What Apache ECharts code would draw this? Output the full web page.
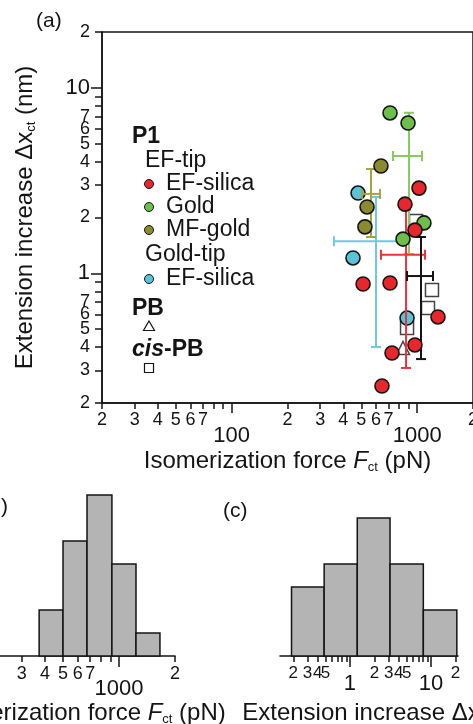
<!DOCTYPE html>
<html>
<head>
<meta charset="utf-8">
<script src="https://cdn.jsdelivr.net/npm/echarts@6.0.0/dist/echarts.min.js"></script>
<style>
html, body { margin: 0; padding: 0; background: #fff; }
#chart { width: 473px; height: 724px; }
</style>
</head>
<body>
<div id="chart"></div>
<script>
// (a) isomerization force F_ct (pN) vs extension increase dx_ct (nm)
const efSilicaForce = [1023, 860, 973, 511, 714, 1295, 732, 973, 646];
const efSilicaExt = [2.88, 2.36, 1.71, 0.876, 0.887, 0.582, 0.372, 0.411, 0.247];
const goldForce = [714, 893, 1088, 839];
const goldExt = [7.32, 6.46, 1.87, 1.53];
const mfGoldForce = [638, 537, 523];
const mfGoldExt = [3.79, 2.28, 1.78];
const goldTipForce = [480, 451, 882];
const goldTipExt = [2.71, 1.21, 0.574];
const pbForce = [839];
const pbExt = [0.396];
const cisPbForce = [986, 1202, 1144, 882];
const cisPbExt = [1.915, 0.813, 0.650, 0.507];

// mean and spread: [F, F low, F high, dx, dx low, dx high]
const efSilicaErr = [871, 638, 1102, 1.26, 0.309, 2.21];
const goldErr = [904, 741, 1062, 4.29, 1.27, 7.34];
const mfGoldErr = [564, 504, 630, 2.68, 1.57, 3.65];
const goldTipErr = [600, 356, 839, 1.49, 0.401, 2.58];
const pbErr = [1049, 882, 1217, 0.967, 0.345, 1.57];

// (b) and (c) histograms
const forceBinEdges = [372, 500, 673, 916, 1234, 1660];
const forceCounts = [2, 5, 7, 4, 1];
const extBinEdges = [0.19, 0.48, 1.23, 3.12, 8.03, 20.8];
const extCounts = [3, 4, 6, 4, 2];

// ticks and tick labels
const forceTicks = [20, 30, 40, 50, 60, 70, 80, 90, 100, 200, 300, 400, 500, 600, 700, 800, 900, 1000, 2000];
const forceMinorLabels = [20, 30, 40, 50, 60, 70, 200, 300, 400, 500, 600, 700, 2000];
const forceMajorLabels = [100, 1000];
const extTicks = [0.2, 0.3, 0.4, 0.5, 0.6, 0.7, 0.8, 0.9, 1, 2, 3, 4, 5, 6, 7, 8, 9, 10, 20];
const extMinorLabels = [0.2, 0.3, 0.4, 0.5, 0.6, 0.7, 2, 3, 4, 5, 6, 7, 20];
const extMajorLabels = [1, 10];
const histForceMinorLabels = [300, 400, 500, 600, 700, 2000];
const histExtMinorLabels = [0.2, 0.3, 0.4, 0.5, 2, 3, 4, 5, 20];

const FONT = 'Liberation Sans, Arial, sans-serif';
const INK = '#141414';
const lg = Math.log10;
const leadDigit = v => String(Math.round(Math.pow(10, v - Math.floor(v + 1e-9))));
const plainNum = v => String(Math.round(Math.pow(10, v)));

const pts = (fs, xs) => fs.map((f, i) => [lg(f), lg(xs[i])]);

function axis(dim, gridIndex, min, max, ticks, labels, fmt, o) {
    return {
        gridIndex: gridIndex, type: 'value', min: min, max: max,
        position: dim === 'x' ? 'bottom' : 'left',
        axisLine: { show: !!o.line, onZero: false, lineStyle: { color: INK, width: 1.5 } },
        axisTick: { show: true, length: o.tick, customValues: ticks.map(lg), lineStyle: { color: INK, width: 1.5 } },
        axisLabel: {
            customValues: labels.map(lg), formatter: fmt, margin: o.margin,
            fontSize: o.size, color: INK, fontFamily: FONT
        },
        splitLine: { show: false },
        name: o.name || '', nameLocation: 'middle', nameGap: o.nameGap || 0,
        nameMoveOverlap: false,
        nameTextStyle: o.nameStyle
    };
}

const titleRich = {
    t: { fontSize: 24, fontFamily: FONT, color: INK },
    i: { fontSize: 24, fontFamily: FONT, color: INK, fontStyle: 'italic' },
    s: { fontSize: 13, fontFamily: FONT, color: INK, padding: [12, 0, 0, 0] }
};
const forceName = '{t|Isomerization force }{i|F}{s|ct}{t| (pN)}';
const extName = '{t|Extension increase Δx}{s|ct}{t| (nm)}';

function errRender(params, api) {
    const xm = api.value(0), xl = api.value(1), xh = api.value(2);
    const ym = api.value(3), yl = api.value(4), yh = api.value(5);
    const a = api.coord([xm, yl]), b = api.coord([xm, yh]);
    const c = api.coord([xl, ym]), d = api.coord([xh, ym]);
    const cap = 5;
    const st = { stroke: api.visual('color'), lineWidth: 2 };
    const seg = (x1, y1, x2, y2) => ({ type: 'line', shape: { x1: x1, y1: y1, x2: x2, y2: y2 }, style: st });
    return {
        type: 'group', children: [
            seg(a[0], a[1], b[0], b[1]),
            seg(a[0] - cap, a[1], a[0] + cap, a[1]),
            seg(b[0] - cap, b[1], b[0] + cap, b[1]),
            seg(c[0], c[1], d[0], d[1]),
            seg(c[0], c[1] - cap, c[0], c[1] + cap),
            seg(d[0], d[1] - cap, d[0], d[1] + cap)
        ]
    };
}
const errData = e => [[lg(e[0]), lg(e[1]), lg(e[2]), lg(e[3]), lg(e[4]), lg(e[5])]];

function histRender(params, api) {
    const p0 = api.coord([api.value(0), api.value(2)]);
    const p1 = api.coord([api.value(1), 0]);
    return {
        type: 'rect',
        shape: { x: p0[0], y: p0[1], width: p1[0] - p0[0], height: p1[1] - p0[1] },
        style: { fill: '#b4b4b4', stroke: INK, lineWidth: 1.5 }
    };
}
const histData = (edges, counts) => counts.map((c, i) => [lg(edges[i]), lg(edges[i + 1]), c]);

function dot(color, data, z) {
    return {
        type: 'scatter', xAxisIndex: 0, yAxisIndex: 0, z: z, symbol: 'circle', symbolSize: 14,
        itemStyle: { color: color, borderColor: INK, borderWidth: 1.6, opacity: 1 },
        data: data
    };
}
function errSeries(color, e) {
    return {
        type: 'custom', xAxisIndex: 0, yAxisIndex: 0, z: 4, renderItem: errRender,
        itemStyle: { color: color }, data: errData(e)
    };
}

const txt = (s, x, y, size, extra) => ({
    type: 'text', x: x, y: y, z: 10,
    style: Object.assign({ text: s, fill: INK, font: size + 'px ' + FONT, verticalAlign: 'middle' }, extra || {})
});
const legDot = (cx, cy, color) => ({
    type: 'circle', z: 10, shape: { cx: cx, cy: cy, r: 4.5 },
    style: { fill: color, stroke: INK, lineWidth: 1 }
});

const RED = '#e8262b', GREEN = '#6cc049', OLIVE = '#8a8a2e', CYAN = '#58c3d9';

const chart = echarts.init(document.getElementById('chart'));
chart.setOption({
    animation: false,
    backgroundColor: '#fff',
    grid: [
        { left: 102, top: 32, width: 371, height: 371, show: true, borderColor: INK, borderWidth: 1.5, outerBoundsMode: 'none' },
        { left: -11, top: 495, width: 186, height: 161, outerBoundsMode: 'none' },
        { left: 280, top: 518, width: 178, height: 138, outerBoundsMode: 'none' }
    ],
    xAxis: [
        axis('x', 0, lg(20), lg(2000), forceTicks, forceMinorLabels, leadDigit,
            { line: true, tick: 6, margin: 8, size: 18, name: forceName, nameGap: 46, nameStyle: { rich: titleRich } }),
        axis('x', 0, lg(20), lg(2000), forceMajorLabels, forceMajorLabels, plainNum,
            { tick: 10, margin: 22, size: 22 }),
        axis('x', 1, lg(200), lg(2000), forceTicks, histForceMinorLabels, leadDigit,
            { line: true, tick: 6, margin: 9, size: 18, name: forceName, nameGap: 45, nameStyle: { rich: titleRich } }),
        axis('x', 1, lg(200), lg(2000), [1000], [1000], plainNum,
            { tick: 11, margin: 22, size: 22 }),
        axis('x', 2, lg(0.137), lg(21.5), extTicks, histExtMinorLabels, leadDigit,
            { line: true, tick: 6, margin: 9, size: 17, name: extName, nameGap: 45, nameStyle: { rich: titleRich, padding: [0, 0, 0, 50] } }),
        axis('x', 2, lg(0.137), lg(21.5), extMajorLabels, extMajorLabels, plainNum,
            { tick: 11, margin: 17, size: 22 })
    ],
    yAxis: [
        axis('y', 0, lg(0.2), lg(20), extTicks, extMinorLabels, leadDigit,
            { line: true, tick: 7, margin: 12, size: 18, name: extName, nameGap: 64, nameStyle: { rich: titleRich } }),
        axis('y', 0, lg(0.2), lg(20), extMajorLabels, extMajorLabels, plainNum,
            { tick: 11, margin: 12, size: 22 }),
        { gridIndex: 1, type: 'value', min: 0, max: 7, show: false },
        { gridIndex: 2, type: 'value', min: 0, max: 6, show: false }
    ],
    series: [
        {
            type: 'scatter', xAxisIndex: 0, yAxisIndex: 0, z: 2, symbol: 'rect', symbolSize: 13,
            itemStyle: { color: '#fff', borderColor: INK, borderWidth: 1.5 }, data: pts(cisPbForce, cisPbExt)
        },
        {
            type: 'scatter', xAxisIndex: 0, yAxisIndex: 0, z: 2, symbol: 'triangle', symbolSize: 13,
            itemStyle: { color: '#fff', borderColor: INK, borderWidth: 1.5 }, data: pts(pbForce, pbExt)
        },
        dot(CYAN, pts(goldTipForce, goldTipExt), 3),
        errSeries('#6ccbe0', goldTipErr),
        errSeries('#a6a43c', mfGoldErr),
        errSeries('#86cb5e', goldErr),
        errSeries('#ee3237', efSilicaErr),
        errSeries(INK, pbErr),
        dot(OLIVE, pts(mfGoldForce, mfGoldExt), 5),
        dot(GREEN, pts(goldForce, goldExt), 5),
        dot(RED, pts(efSilicaForce, efSilicaExt), 5),
        {
            type: 'custom', xAxisIndex: 2, yAxisIndex: 2, renderItem: histRender,
            data: histData(forceBinEdges, forceCounts)
        },
        {
            type: 'custom', xAxisIndex: 4, yAxisIndex: 3, renderItem: histRender,
            data: histData(extBinEdges, extCounts)
        }
    ],
    graphic: [
        txt('(a)', 36, 21, 21),
        txt('(b)', 8, 507, 21, { align: 'right' }),
        txt('(c)', 223, 511, 21),
        txt('P1', 132, 137, 23, { font: 'bold 23px ' + FONT }),
        txt('EF-tip', 145, 161, 23),
        legDot(149, 184, RED), txt('EF-silica', 166, 184, 23),
        legDot(149, 207, GREEN), txt('Gold', 166, 207, 23),
        legDot(149, 230, OLIVE), txt('MF-gold', 166, 230, 23),
        txt('Gold-tip', 145, 255, 23),
        legDot(149, 279, CYAN), txt('EF-silica', 166, 279, 23),
        txt('PB', 132, 309, 23, { font: 'bold 23px ' + FONT }),
        {
            type: 'polygon', z: 10, shape: { points: [[149, 321], [154.5, 330.5], [143.5, 330.5]] },
            style: { fill: '#fff', stroke: INK, lineWidth: 1.2 }
        },
        txt('{i|cis}{b|-PB}', 132, 350, 23, {
            rich: {
                i: { fontSize: 23, fontFamily: FONT, fontWeight: 'bold', fontStyle: 'italic', fill: INK },
                b: { fontSize: 23, fontFamily: FONT, fontWeight: 'bold', fill: INK }
            }
        }),
        {
            type: 'rect', z: 10, shape: { x: 144.5, y: 363.5, width: 9, height: 9 },
            style: { fill: '#fff', stroke: INK, lineWidth: 1.2 }
        }
    ]
});
</script>
</body>
</html>
